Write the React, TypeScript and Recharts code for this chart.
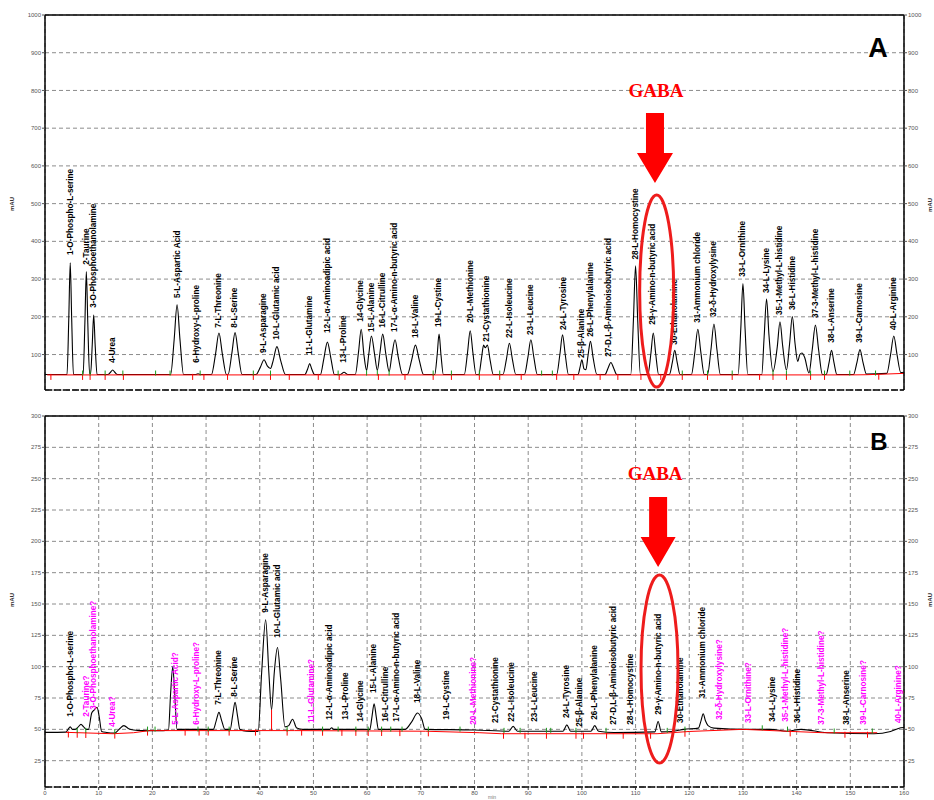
import React from "react";
import {
  CartesianGrid,
  ComposedChart,
  Line,
  ReferenceDot,
  ReferenceLine,
  Scatter,
  XAxis,
  YAxis,
} from "recharts";

// retention time (min) and detector ticks
const minutes = [0, 10, 20, 30, 40, 50, 60, 70, 80, 90, 100, 110, 120, 130, 140, 150, 160];
const mauTicksA = [100, 200, 300, 400, 500, 600, 700, 800, 900, 1000];
const mauTicksB = [25, 50, 75, 100, 125, 150, 175, 200, 225, 250, 275, 300];

// A: amino acid standard, [min, mAU]
const traceA: [number, number][] = [
  [0, 47], [4.1, 47], [4.43, 195], [4.7, 343], [4.97, 195], [5.3, 47],
  [7.1, 47], [7.43, 184], [7.7, 320], [7.97, 184], [8.3, 50],
  [8.5, 50], [8.8, 126], [9.07, 205], [9.34, 126], [9.7, 47],
  [11.7, 47], [12.2, 53], [12.6, 59], [13.0, 53], [13.5, 47],
  [23.4, 47], [24.06, 140], [24.6, 232], [25.14, 140], [25.8, 47],
  [28.0, 47], [28.5, 49], [29.0, 47],
  [31.0, 47], [31.77, 102], [32.4, 157], [33.03, 102], [33.8, 47],
  [34.1, 47], [34.8, 103], [35.4, 158], [36.0, 103], [36.7, 47],
  [39.3, 47], [40.1, 66], [40.8, 86], [41.4, 70], [42.0, 63], [42.5, 84], [43.2, 121], [43.9, 84], [44.8, 47],
  [48.4, 47], [48.9, 61], [49.3, 76], [49.7, 61], [50.2, 47],
  [51.3, 47], [51.95, 90], [52.6, 133], [53.25, 90], [53.9, 47],
  [55.0, 47], [55.7, 53], [56.4, 47],
  [57.8, 47], [58.4, 107], [58.9, 167], [59.4, 100], [59.9, 58], [60.3, 100], [60.8, 149], [61.4, 100],
  [61.9, 58], [62.4, 106], [62.9, 154], [63.5, 100], [64.1, 55], [64.6, 97], [65.2, 139], [65.8, 93], [66.6, 47],
  [67.5, 47], [68.3, 86], [69.0, 125], [69.7, 86], [70.5, 47],
  [72.6, 47], [73.05, 100], [73.4, 154], [73.75, 100], [74.2, 47],
  [78.1, 47], [78.7, 105], [79.2, 163], [79.7, 105], [80.3, 47],
  [80.8, 47], [81.3, 90], [81.7, 125], [82.0, 118], [82.4, 125], [82.9, 86], [83.5, 47],
  [85.3, 47], [85.95, 88], [86.5, 130], [87.05, 88], [87.7, 47],
  [89.3, 47], [89.95, 93], [90.5, 139], [91.05, 93], [91.7, 47],
  [95.3, 47], [95.9, 100], [96.4, 152], [96.9, 100], [97.5, 47],
  [99.3, 47], [99.65, 66], [100.0, 86], [100.4, 62], [100.75, 60], [101.15, 98], [101.6, 135], [102.1, 91], [102.8, 47],
  [104.3, 47], [104.85, 63], [105.4, 79], [105.95, 63], [106.5, 47],
  [109.1, 47], [109.6, 191], [110.0, 335], [110.4, 191], [110.9, 47],
  [112.3, 47], [112.85, 102], [113.3, 157], [113.75, 102], [114.3, 47],
  [116.3, 47], [116.85, 79], [117.3, 111], [117.75, 79], [118.3, 47],
  [120.4, 47], [121.05, 107], [121.6, 167], [122.15, 107], [122.8, 47],
  [123.4, 47], [124.05, 114], [124.6, 181], [125.15, 114], [125.8, 47],
  [129.1, 47], [129.6, 168], [130.0, 288], [130.4, 168], [130.9, 47],
  [133.5, 47], [133.95, 147], [134.4, 247], [134.85, 151], [135.6, 55], [136.4, 121], [136.9, 187], [137.4, 123],
  [138.1, 59], [138.7, 130], [139.2, 201], [139.7, 130], [140.2, 82], [140.6, 100], [141.0, 104], [141.5, 92],
  [142.3, 51], [142.9, 112], [143.5, 178], [144.1, 112], [144.8, 47],
  [145.5, 47], [146.05, 79], [146.5, 111], [146.95, 79], [147.5, 47],
  [150.6, 47], [151.25, 80], [151.8, 113], [152.35, 80], [153.0, 48],
  [156.8, 50], [157.5, 100], [158.1, 149], [158.7, 100], [159.4, 52], [160, 53],
];

// B: sample, [min, mAU]
const traceB: [number, number][] = [
  [0, 47.6], [3.9, 47.8], [4.3, 50], [4.7, 52], [5.1, 50], [5.6, 50], [6.2, 52], [6.7, 54], [7.2, 52], [7.7, 50],
  [8.1, 50], [8.7, 63], [9.2, 65.6], [9.7, 67.5], [10.1, 60], [10.55, 48.3], [11.5, 47.5], [13.0, 47],
  [13.8, 50], [14.7, 53], [15.6, 50.5], [16.5, 49.5], [18, 49], [22, 49],
  [23.0, 49.5], [23.4, 79], [23.8, 100], [24.15, 79], [24.6, 50],
  [31.35, 50], [31.9, 57], [32.4, 63.5], [32.9, 57], [33.5, 50],
  [34.5, 50], [34.95, 61], [35.4, 71.5], [35.85, 61], [36.3, 50],
  [37.5, 48.5], [39.7, 48.3], [40.35, 95], [41.1, 137.4], [41.7, 95], [42.2, 65.6], [42.7, 95], [43.3, 115.3],
  [43.9, 90], [44.7, 52], [45.4, 53], [46.1, 58], [46.9, 51], [48, 50],
  [53, 50], [53.4, 51.3], [53.8, 50],
  [60.5, 50], [60.9, 60], [61.3, 70.4], [61.7, 60], [62.1, 50],
  [67.05, 50], [68.3, 56], [69.4, 63], [70.2, 58], [70.8, 50],
  [80, 49.5], [86.4, 48.5], [87.2, 52.4], [88.0, 48.5],
  [96.5, 48.5], [97.2, 53.6], [97.9, 48.5],
  [101.7, 48.5], [102.4, 53], [103.1, 48.5],
  [106, 47.5], [113.6, 48], [114.2, 56.3], [114.8, 48],
  [116.8, 48.3], [119, 50], [121.7, 51], [122.2, 57], [122.6, 62.5], [123.0, 57], [123.5, 53], [124.6, 51],
  [130.8, 50], [135.2, 50], [138.2, 48.5], [140.8, 50], [145.7, 47.3], [154.4, 46.5], [157.5, 48.3],
  [159.4, 51.3], [160, 51.5],
];

// integration baselines
const redBaseA: [number, number][] = [[0.4, 46], [150, 46], [153, 46.5], [160, 50]];
const redBaseB: [number, number][] = [
  [3.9, 47.6], [12.6, 46.5], [16.5, 47.3], [19.4, 49], [46.5, 49], [70.9, 48.5], [81, 47.3], [85, 46.5],
  [114, 46.5], [120, 48.3], [130, 50], [138, 48.5], [145, 47.3], [155, 47.3],
];

// peak start/end markers
const redTicksA: [number, number][] = [
  [1.1, 46], [7.0, 46], [8.4, 46], [11.2, 46], [14.6, 46], [27.5, 46], [29.6, 46], [34.0, 46], [38.8, 46],
  [42.0, 46], [45.5, 46], [50.9, 46], [54.8, 46], [62.1, 46], [67.05, 46], [72.3, 46], [75.7, 46], [80.9, 46],
  [84.7, 46], [88.7, 46], [95.3, 46], [98.5, 46], [103.4, 46], [106.7, 46], [111.0, 46], [114.7, 46],
  [118.7, 46], [123.4, 46], [128.0, 46], [133.1, 46], [135.6, 46], [138.1, 46], [142.6, 46], [145.2, 46], [155.3, 46.5],
];
const greenTicksA: [number, number][] = [
  [7.0, 47], [8.4, 47], [11.2, 47], [14.5, 47], [20.6, 47], [23.3, 47], [28.9, 47], [38.8, 47], [42.0, 47],
  [54.6, 47], [59.9, 47], [61.9, 47], [64.1, 47], [72.3, 47], [75.7, 47], [80.9, 47], [84.7, 47], [92.5, 47],
  [94.5, 47], [118.7, 47], [123.4, 47], [128.0, 47], [135.6, 47], [138.1, 47], [142.6, 47], [145.2, 47],
  [149.9, 47], [154.7, 47],
];
const redTicksB: [number, number][] = [
  [4.35, 47.5], [6.0, 47.3], [7.6, 47.1], [13.0, 46.6], [19.1, 49], [26.1, 49], [28.7, 49], [30.4, 49],
  [34.3, 49], [39.2, 49], [45.1, 49], [47.8, 49], [51.7, 48.9], [55.3, 48.8], [57.9, 48.8], [60.2, 48.7],
  [62.7, 48.7], [66.1, 48.6], [71.4, 48.4], [85.4, 46.5], [89.4, 46.5], [93.4, 46.5], [98.9, 46.5],
  [100.3, 46.5], [104.6, 46.5], [107.7, 46.5], [112.8, 46.5], [119.2, 48.1], [138.8, 48.4], [149, 47.3], [153.2, 47.3],
];
const greenTicksB: [number, number][] = [
  [6.0, 48], [7.6, 48], [13.0, 47], [19.1, 49], [20.5, 49], [28.5, 49], [30.4, 49], [34.3, 49], [45.1, 49],
  [51.7, 49], [54.6, 49], [57.9, 49], [60.2, 49], [62.7, 49], [64.4, 49], [66.5, 49], [71.4, 49], [77.3, 49],
  [85.5, 48], [88.5, 48], [93.4, 48], [94.2, 48], [98.9, 48], [104.5, 48], [115.9, 48], [119.2, 49],
  [133.6, 50], [138.3, 49], [147, 47.5], [154.1, 47.5],
];
const dropLineB: [number, number][] = [[42.2, 49], [42.2, 65.6]];

// [min, mAU at label foot, name]
const labelsA: [number, number, string][] = [
  [4.71, 364, "1-O-Phospho-L-serine"],
  [7.69, 338, "2-Taurine"],
  [9.07, 224, "3-O-Phosphoethanolamine"],
  [12.61, 78, "4-Urea"],
  [24.59, 250, "5-L-Aspartic Acid"],
  [28.31, 78, "6-Hydroxy-L-proline"],
  [32.41, 171, "7-L-Threonine"],
  [35.39, 171, "8-L-Serine"],
  [40.79, 104, "9-L-Asparagine"],
  [43.16, 139, "10-L-Glutamic acid"],
  [49.3, 99, "11-L-Glutamine"],
  [52.58, 157, "12-L-α-Aminoadipic acid"],
  [55.69, 78, "13-L-Proline"],
  [58.86, 187, "14-Glycine"],
  [60.77, 160, "15-L-Alanine"],
  [62.9, 171, "16-L-Citrulline"],
  [65.19, 160, "17-L-α-Amino-n-butyric acid"],
  [69.04, 144, "18-L-Valine"],
  [73.38, 173, "19-L-Cystine"],
  [79.21, 184, "20-L-Methionine"],
  [82.27, 134, "21-Cystathionine"],
  [86.48, 144, "22-L-Isoleucine"],
  [90.52, 152, "23-L-Leucine"],
  [96.54, 165, "24-L-Tyrosine"],
  [99.96, 91, "25-β-Alanine"],
  [101.64, 147, "26-L-Phenylalanine"],
  [104.92, 94, "27-D,L-β-Aminoisobutyric acid"],
  [110.02, 352, "28-L-Homocystine"],
  [113.11, 179, "29-γ-Amino-n-butyric acid"],
  [117.34, 126, "30-Ethanolamine"],
  [121.62, 184, "31-Ammonium chloride"],
  [124.6, 200, "32-δ-Hydroxylysine"],
  [130.0, 306, "33-L-Ornithine"],
  [134.42, 263, "34-L-Lysine"],
  [136.89, 205, "35-1-Methyl-L-histidine"],
  [139.19, 218, "36-L-Histidine"],
  [143.54, 197, "37-3-Methyl-L-histidine"],
  [146.52, 131, "38-L-Anserine"],
  [151.8, 131, "39-L-Carnosine"],
  [158.13, 165, "40-L-Arginine"],
];

// [min, mAU at label foot, name, found in sample]
const labelsB: [number, number, string, boolean][] = [
  [4.71, 60, "1-O-Phospho-L-serine", true],
  [7.82, 60, "2-Taurine?", false],
  [9.07, 65.6, "3-O-Phosphoethanolamine?", false],
  [12.61, 52, "4-Urea?", false],
  [24.4, 53.7, "5-L-Aspartic Acid?", false],
  [28.31, 53.7, "6-Hydroxy-L-proline?", false],
  [32.41, 69.6, "7-L-Threonine", true],
  [35.39, 76, "8-L-Serine", true],
  [41.11, 143, "9-L-Asparagine", true],
  [43.27, 123, "10-L-Glutamic acid", true],
  [49.67, 55, "11-L-Glutamine?", false],
  [52.95, 57.7, "12-L-α-Aminoadipic acid", true],
  [56.01, 57.7, "13-L-Proline", true],
  [58.86, 56, "14-Glycine", true],
  [61.28, 79, "15-L-Alanine", true],
  [63.51, 56, "16-L-Citrulline", true],
  [65.51, 56, "17-L-α-Amino-n-butyric acid", true],
  [69.34, 71, "18-L-Valine", true],
  [74.82, 57.7, "19-L-Cystine", true],
  [79.9, 53.7, "20-L-Methionine?", false],
  [84.0, 55, "21-Cystathionine", true],
  [86.92, 56, "22-L-Isoleucine", true],
  [91.26, 56, "23-L-Leucine", true],
  [97.17, 59, "24-L-Tyrosine", true],
  [99.65, 52, "25-β-Alanine", true],
  [102.44, 57.7, "26-L-Phenylalanine", true],
  [105.85, 53.7, "27-D,L-β-Aminoisobutyric acid", true],
  [109.09, 53.7, "28-L-Homocystine", true],
  [114.23, 61.7, "29-γ-Amino-n-butyric acid", true],
  [118.4, 55, "30-Ethanolamine", true],
  [122.56, 75, "31-Ammonium chloride", true],
  [125.72, 57.7, "32-δ-Hydroxylysine?", false],
  [131.12, 55, "33-L-Ornithine?", false],
  [135.46, 56, "34-L-Lysine", true],
  [137.96, 56, "35-1-Methyl-L-histidine?", false],
  [140.12, 55, "36-L-Histidine", true],
  [144.59, 53.7, "37-3-Methyl-L-histidine?", false],
  [149.25, 53.7, "38-L-Anserine", true],
  [152.41, 53.7, "39-L-Carnosine?", false],
  [159.06, 55, "40-L-Arginine?", false],
];

// GABA peak apex in each run
const gabaA: [number, number] = [113.3, 157];
const gabaB: [number, number] = [114.2, 56.3];

const FONT = "'Liberation Sans', Arial, sans-serif";
const pts = (rows: [number, number][]) => rows.map(([t, v]) => ({ t, v }));

function PeakLabel(props: any) {
  const { cx, cy, payload } = props;
  if (cx == null || cy == null) return null;
  return (
    <text
      x={cx}
      y={cy}
      transform={`rotate(-90 ${cx} ${cy})`}
      fontSize={8.2}
      fontWeight="bold"
      fontFamily={FONT}
      fill={payload.color}
      dominantBaseline="central"
    >
      {payload.name}
    </text>
  );
}

function RedTick(props: any) {
  const { cx, cy } = props;
  return <line x1={cx} y1={cy - 1} x2={cx} y2={cy + 5} stroke="#ff0000" strokeWidth={1} />;
}

function GreenTick(props: any) {
  const { cx, cy } = props;
  return <line x1={cx} y1={cy + 1} x2={cx} y2={cy - 4} stroke="#1a9a1a" strokeWidth={1} />;
}

type GabaGeom = { ex: number; ey: number; rx: number; ry: number; tipDx: number; tipDy: number; headLen: number; headHalf: number; shaftHalf: number; shaftLen: number; textDx: number; textDy: number };

function GabaMark({ cx, cy, g }: { cx: number; cy: number; g: GabaGeom }) {
  const tx = cx + g.tipDx;
  const ty = cy + g.tipDy;
  const hy = ty - g.headLen;
  const sy = hy - g.shaftLen;
  const arrow = `M${tx},${ty} L${tx - g.headHalf},${hy} L${tx - g.shaftHalf},${hy} L${tx - g.shaftHalf},${sy} L${tx + g.shaftHalf},${sy} L${tx + g.shaftHalf},${hy} L${tx + g.headHalf},${hy} Z`;
  return (
    <g>
      <ellipse cx={cx + g.ex} cy={cy + g.ey} rx={g.rx} ry={g.ry} fill="none" stroke="#ee1c1c" strokeWidth={3} />
      <path d={arrow} fill="#ff0000" />
      <text
        x={cx + g.textDx}
        y={cy + g.textDy}
        textAnchor="middle"
        fontFamily="'Liberation Serif', 'Times New Roman', serif"
        fontWeight="bold"
        fontSize={19}
        fill="#ff0000"
      >
        GABA
      </text>
    </g>
  );
}

type PanelProps = {
  trace: [number, number][];
  redBase: [number, number][];
  redTicks: [number, number][];
  greenTicks: [number, number][];
  labels: { t: number; v: number; name: string; color: string }[];
  domain: [number, number];
  ticks: number[];
  gaba: [number, number];
  gabaGeom: GabaGeom;
  showTime: boolean;
  top: number;
  drop?: [number, number][];
};

function Panel(p: PanelProps) {
  const tickStyle = { fontSize: 6, fill: "#555", fontFamily: FONT };
  return (
    <ComposedChart
      width={934}
      height={400}
      margin={{ top: p.top, right: 0, left: 15, bottom: p.showTime ? 2 : 9 }}
      style={{ fontFamily: FONT }}
    >
      <CartesianGrid stroke="#8c8c8c" strokeDasharray="4 3" strokeWidth={1} />
      <XAxis
        type="number"
        dataKey="t"
        domain={[0, 160]}
        ticks={minutes}
        interval={0}
        height={p.showTime ? 11 : 1}
        tick={p.showTime ? tickStyle : false}
        tickLine={p.showTime ? { stroke: "#333" } : false}
        tickSize={3}
        tickMargin={1}
        axisLine={{ stroke: "#000", strokeWidth: 1.6, strokeDasharray: "7 2" }}
        allowDataOverflow
      />
      <YAxis
        type="number"
        domain={p.domain}
        ticks={p.ticks}
        interval={0}
        width={30}
        tickSize={3}
        tickMargin={1}
        tick={tickStyle}
        tickLine={{ stroke: "#555" }}
        axisLine={{ stroke: "#000", strokeWidth: 1.5 }}
        allowDataOverflow
      />
      <YAxis
        yAxisId="r"
        orientation="right"
        type="number"
        domain={p.domain}
        ticks={p.ticks}
        interval={0}
        width={30}
        tickSize={3}
        tickMargin={1}
        tick={tickStyle}
        tickLine={{ stroke: "#555" }}
        axisLine={{ stroke: "#000", strokeWidth: 1.5 }}
        allowDataOverflow
      />
      <ReferenceLine y={p.domain[1]} stroke="#000" strokeWidth={1.5} />
      <Line
        data={pts(p.trace)}
        dataKey="v"
        type="monotone"
        stroke="#000"
        strokeWidth={1.1}
        dot={false}
        isAnimationActive={false}
      />
      <Line
        data={pts(p.redBase)}
        dataKey="v"
        type="linear"
        stroke="#ff0000"
        strokeWidth={1}
        dot={false}
        isAnimationActive={false}
      />
      {p.drop ? (
        <Line
          data={pts(p.drop)}
          dataKey="v"
          type="linear"
          stroke="#ff0000"
          strokeWidth={1}
          dot={false}
          isAnimationActive={false}
        />
      ) : null}
      <Scatter data={pts(p.redTicks)} dataKey="v" shape={RedTick} isAnimationActive={false} />
      <Scatter data={pts(p.greenTicks)} dataKey="v" shape={GreenTick} isAnimationActive={false} />
      <Scatter data={p.labels} dataKey="v" shape={PeakLabel} isAnimationActive={false} />
      <ReferenceDot
        x={p.gaba[0]}
        y={p.gaba[1]}
        r={0}
        ifOverflow="visible"
        shape={(s: any) => <GabaMark cx={s.cx} cy={s.cy} g={p.gabaGeom} />}
      />
    </ComposedChart>
  );
}

export default function App() {
  const labA = labelsA.map(([t, v, name]) => ({ t, v, name, color: "#000" }));
  const labB = labelsB.map(([t, v, name, found]) => ({ t, v, name, color: found ? "#000" : "#ff00ff" }));
  const small = { fontSize: 6, fontWeight: "bold" as const, fill: "#333", fontFamily: FONT };
  return (
    <div style={{ position: "absolute", left: 0, top: 0, width: 934, height: 800, background: "#fff", overflow: "hidden" }}>
      <div style={{ position: "absolute", left: 0, top: 0 }}>
        <Panel
          trace={traceA}
          redBase={redBaseA}
          redTicks={redTicksA}
          greenTicks={greenTicksA}
          labels={labA}
          domain={[6, 1000]}
          ticks={mauTicksA}
          gaba={gabaA}
          gabaGeom={{ ex: 3.4, ey: -42, rx: 17, ry: 96, tipDx: 1.7, tipDy: -150, headLen: 30, headHalf: 18, shaftHalf: 9, shaftLen: 40, textDx: 2.7, textDy: -236 }}
          showTime={false}
          top={15}
        />
      </div>
      <div style={{ position: "absolute", left: 0, top: 400 }}>
        <Panel
          trace={traceB}
          redBase={redBaseB}
          redTicks={redTicksB}
          greenTicks={greenTicksB}
          labels={labB}
          domain={[4, 300]}
          ticks={mauTicksB}
          gaba={gabaB}
          gabaGeom={{ ex: 1.4, ey: -52.4, rx: 18.5, ry: 94, tipDx: 0, tipDy: -154.4, headLen: 30, headHalf: 17.5, shaftHalf: 9, shaftLen: 40, textDx: -3, textDy: -241 }}
          showTime={true}
          top={16}
          drop={dropLineB}
        />
      </div>
      <svg width={934} height={800} style={{ position: "absolute", left: 0, top: 0, pointerEvents: "none" }}>
        <text x={14} y={204} transform="rotate(-90 14 204)" textAnchor="middle" {...small}>mAU</text>
        <text x={932} y={205} transform="rotate(-90 932 205)" textAnchor="middle" {...small}>mAU</text>
        <text x={14} y={600} transform="rotate(-90 14 600)" textAnchor="middle" {...small}>mAU</text>
        <text x={932} y={600} transform="rotate(-90 932 600)" textAnchor="middle" {...small}>mAU</text>
        <text x={878} y={57} textAnchor="middle" fontFamily={FONT} fontWeight="bold" fontSize={27} fill="#000">A</text>
        <text x={879} y={450} textAnchor="middle" fontFamily={FONT} fontWeight="bold" fontSize={24} fill="#000">B</text>
        <text x={492} y={799} textAnchor="middle" fontFamily={FONT} fontSize={5} fill="#777">min</text>
      </svg>
    </div>
  );
}
